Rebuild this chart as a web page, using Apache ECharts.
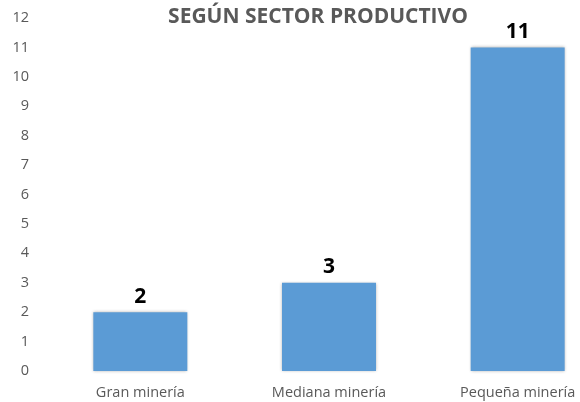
<!DOCTYPE html>
<html>
<head>
<meta charset="utf-8">
<script src="https://cdn.jsdelivr.net/npm/echarts@6/dist/echarts.min.js"></script>
<style>
  html, body { margin: 0; padding: 0; background: #fff; overflow: hidden; }
  #chart { width: 612px; height: 402px; }
</style>
</head>
<body>
<div id="chart"></div>
<script>
var categories = ['Gran minería', 'Mediana minería', 'Pequeña minería'];
var values = [2, 3, 11];

// the plot runs past the right edge of the 580px picture, like the reference
var chart = echarts.init(document.getElementById('chart'));
chart.setOption({
  animation: false,
  textStyle: { fontFamily: 'Open Sans' },
  title: {
    text: 'SEGÚN SECTOR PRODUCTIVO',
    left: 313,
    textAlign: 'center',
    top: 2,
    textStyle: { fontSize: 21, fontWeight: 'bold', color: '#595959', fontFamily: 'Open Sans' }
  },
  grid: { left: 46, top: 18, right: 0, bottom: 31, containLabel: false },
  xAxis: {
    type: 'category',
    data: categories,
    axisLine: { show: false },
    axisTick: { show: false },
    axisLabel: { color: '#595959', fontSize: 14.5, margin: 14 }
  },
  yAxis: {
    type: 'value',
    min: 0,
    max: 12,
    interval: 1,
    splitLine: { show: false },
    axisLine: { show: false },
    axisTick: { show: false },
    axisLabel: { color: '#595959', fontSize: 14.5, margin: 17 }
  },
  series: [{
    type: 'bar',
    data: values,
    barWidth: 94,
    itemStyle: {
      color: '#5B9BD5',
      shadowBlur: 3,
      shadowColor: 'rgba(0,0,0,0.3)'
    },
    label: {
      show: true,
      position: 'top',
      color: '#000',
      fontSize: 21,
      fontWeight: 'bold',
      distance: 5
    }
  }]
});
</script>
</body>
</html>
